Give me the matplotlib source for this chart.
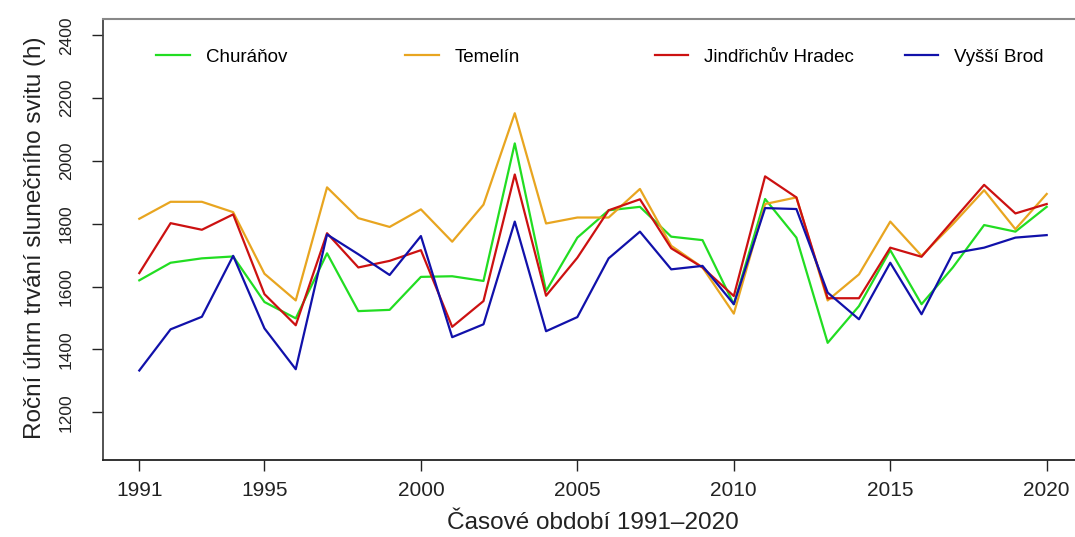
import matplotlib
matplotlib.use("Agg")
import matplotlib.pyplot as plt
from matplotlib.lines import Line2D
from matplotlib.legend import Legend

years = list(range(1991, 2021))

churanov = [1620, 1676, 1690, 1696, 1551, 1499, 1706, 1522, 1526, 1631,
            1633, 1618, 2056, 1586, 1756, 1843, 1854, 1759, 1748, 1544,
            1879, 1756, 1421, 1538, 1716, 1544, 1661, 1796, 1775, 1854]
temelin = [1816, 1870, 1870, 1837, 1641, 1556, 1916, 1818, 1790, 1846,
           1743, 1861, 2152, 1801, 1820, 1820, 1911, 1730, 1661, 1514,
           1863, 1884, 1556, 1639, 1807, 1698, 1799, 1907, 1783, 1895]
jhradec = [1643, 1802, 1781, 1830, 1576, 1477, 1770, 1661, 1682, 1716,
           1472, 1554, 1957, 1571, 1692, 1843, 1878, 1722, 1661, 1570,
           1951, 1884, 1563, 1563, 1724, 1695, 1810, 1924, 1833, 1863]
vyssi_brod = [1333, 1464, 1504, 1698, 1467, 1337, 1766, 1703, 1637, 1761,
              1439, 1480, 1807, 1458, 1503, 1690, 1775, 1655, 1666, 1544,
              1850, 1847, 1581, 1496, 1676, 1512, 1706, 1724, 1756, 1764]

series_names = ["Churáňov", "Temelín", "Jindřichův Hradec", "Vyšší Brod"]
series_values = [churanov, temelin, jhradec, vyssi_brod]
colors = ["#22DD22", "#E8A520", "#CC1111", "#1111AA"]

x_ticks = [1991, 1995, 2000, 2005, 2010, 2015, 2020]
y_ticks = [1200, 1400, 1600, 1800, 2000, 2200, 2400]

plt.rcParams['font.family'] = ['Liberation Sans', 'DejaVu Sans']

fig = plt.figure(figsize=(10.75, 5.37), dpi=100)
ax = fig.add_axes([103/1075, 77/537, 980/1075, 441/537])

for name, vals, c in zip(series_names, series_values, colors):
    ax.plot(years, vals, color=c, lw=1.6, label=name)

ax.set_xlim(1989.84, 2021.16)
ax.set_ylim(1048, 2452)
ax.set_xticks(x_ticks)
ax.set_yticks(y_ticks)
ax.tick_params(axis='x', labelsize=15, length=8, width=1, pad=7, colors='#222222')
ax.tick_params(axis='y', labelsize=12.5, length=8, width=1, pad=13, colors='#222222',
               labelrotation=90)
for lab in ax.get_yticklabels():
    lab.set_va('center')

ax.spines['right'].set_visible(False)
ax.spines['top'].set_color('#888888')
ax.spines['top'].set_linewidth(1.5)
ax.spines['left'].set_color('#444444')
ax.spines['left'].set_linewidth(1.3)
ax.spines['bottom'].set_color('#222222')
ax.spines['bottom'].set_linewidth(1.3)

ax.set_xlabel("Časové období 1991–2020", fontsize=17.5, color='#222222')
ax.xaxis.set_label_coords(0.5, -0.118)
ax.set_ylabel("Roční úhrn trvání slunečního svitu (h)", fontsize=17.5, color='#222222')
ax.yaxis.set_label_coords(-0.058, 0.505)

leg_x = [0.0541, 0.3082, 0.563, 0.818]
for name, c, lx in zip(series_names, colors, leg_x):
    h = Line2D([], [], color=c, lw=1.6)
    lg = Legend(ax, [h], [name], loc='center left',
                bbox_to_anchor=(lx, 0.9127), frameon=False, fontsize=13.5,
                borderpad=0, borderaxespad=0, handlelength=1.8,
                handletextpad=0.84)
    ax.add_artist(lg)

fig.savefig("out.png", dpi=100)
